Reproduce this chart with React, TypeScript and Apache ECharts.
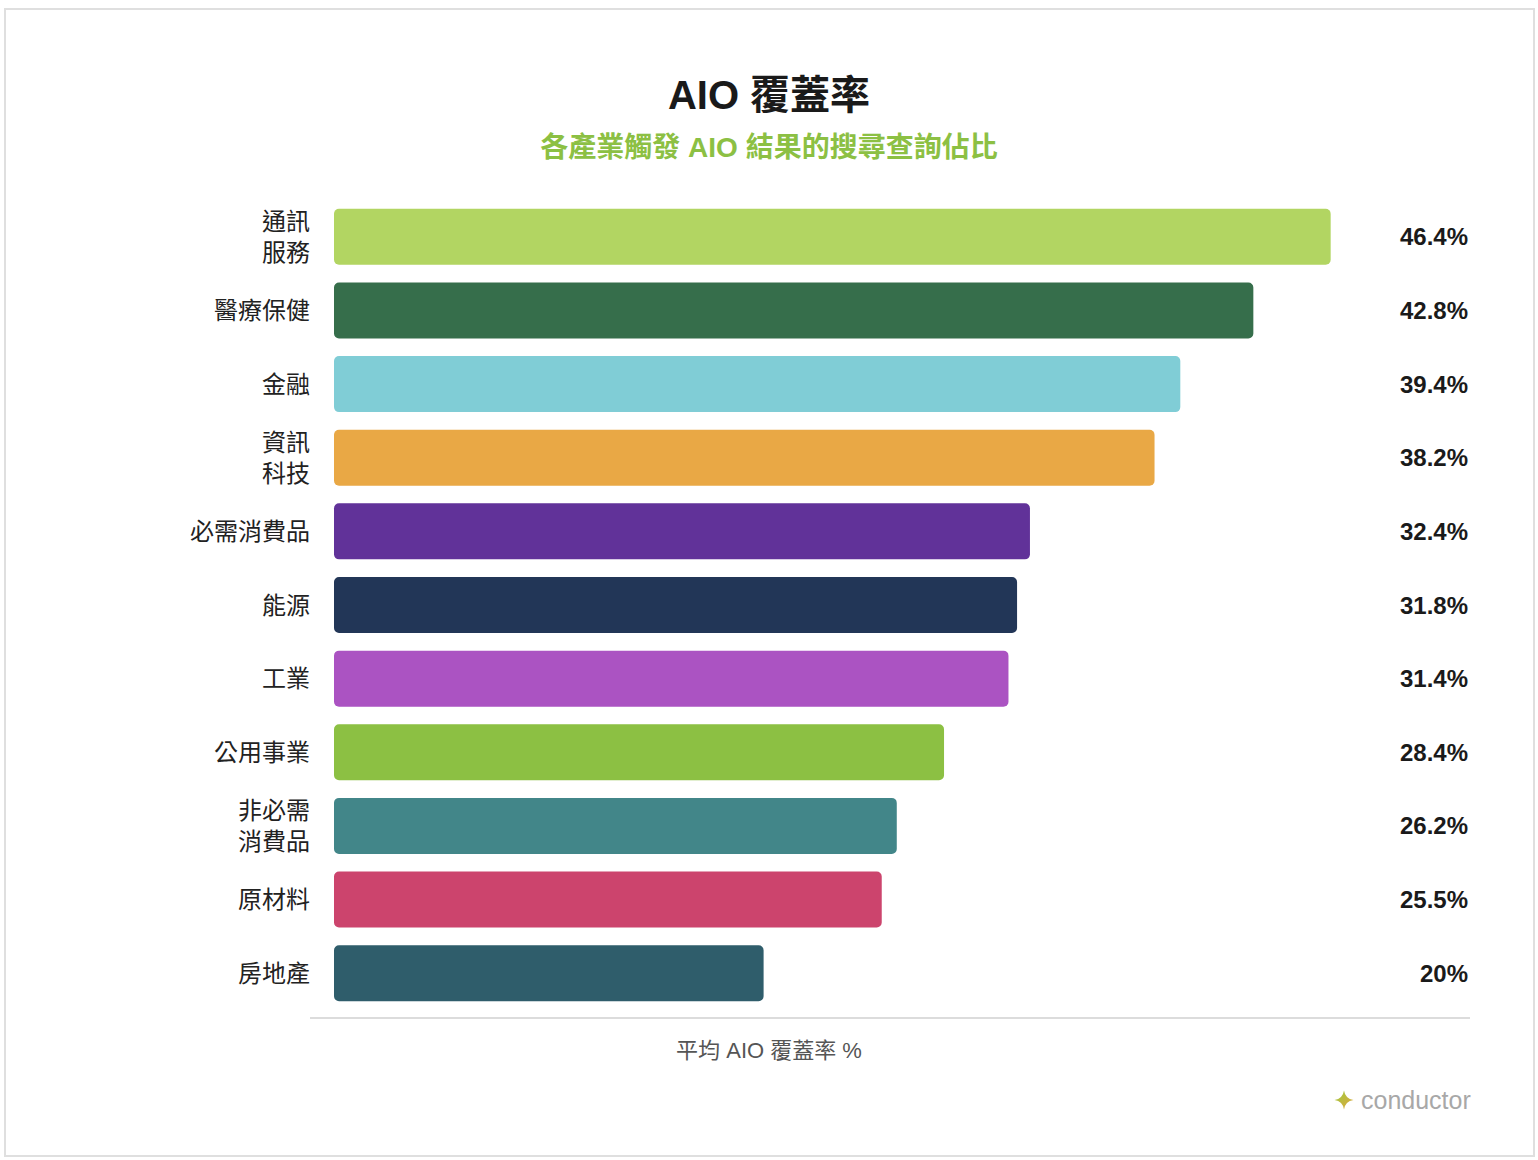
import React, { useEffect, useRef } from "react";
import * as echarts from "echarts";

const categories = [
  "通訊\n服務",
  "醫療保健",
  "金融",
  "資訊\n科技",
  "必需消費品",
  "能源",
  "工業",
  "公用事業",
  "非必需\n消費品",
  "原材料",
  "房地產",
];
const values = [46.4, 42.8, 39.4, 38.2, 32.4, 31.8, 31.4, 28.4, 26.2, 25.5, 20];
const valueLabels = ["46.4%", "42.8%", "39.4%", "38.2%", "32.4%", "31.8%", "31.4%", "28.4%", "26.2%", "25.5%", "20%"];
const barColors = [
  "#b2d562",
  "#366e4b",
  "#80cdd6",
  "#e9a845",
  "#613299",
  "#223657",
  "#ab53c2",
  "#8cc043",
  "#428689",
  "#cc446d",
  "#2f5d6b",
];

const FONT = '"Liberation Sans", "Noto Sans CJK TC", sans-serif';

echarts.graphic.registerShape(
  "spark",
  echarts.graphic.extendPath(
    "M0,-9 Q1.2,-1.2 9,0 Q1.2,1.2 0,9 Q-1.2,1.2 -9,0 Q-1.2,-1.2 0,-9 Z",
    {}
  ) as any
);

export default function App() {
  const ref = useRef<HTMLDivElement>(null);
  useEffect(() => {
    if (!ref.current) return;
    const chart = echarts.init(ref.current, null, { renderer: "svg" });
    chart.setOption({
      animation: false,
      backgroundColor: "#ffffff",
      title: {
        text: "AIO 覆蓋率",
        subtext: "各產業觸發 AIO 結果的搜尋查詢佔比",
        left: "center",
        top: 70,
        itemGap: 18,
        textStyle: { fontFamily: FONT, fontSize: 40, fontWeight: "bold", color: "#1a1a1a" },
        subtextStyle: { fontFamily: FONT, fontSize: 28, fontWeight: "bold", color: "#8cc043" },
      },
      grid: { left: 334, top: 200, height: 810, right: 130 },
      xAxis: {
        type: "value",
        min: 0,
        max: 50,
        axisLine: { show: false },
        axisTick: { show: false },
        axisLabel: { show: false },
        splitLine: { show: false },
      },
      yAxis: [
        {
          type: "category",
          data: categories,
          inverse: true,
          axisLine: { show: false },
          axisTick: { show: false },
          axisLabel: {
            margin: 24,
            fontFamily: FONT,
            fontSize: 24,
            lineHeight: 31,
            color: "#222222",
            align: "right",
          },
        },
        {
          type: "category",
          data: valueLabels,
          inverse: true,
          position: "right",
          axisLine: { show: false },
          axisTick: { show: false },
          axisLabel: {
            margin: 60,
            align: "right",
            fontFamily: FONT,
            fontSize: 24,
            fontWeight: "bold",
            color: "#1a1a1a",
          },
        },
      ],
      series: [
        {
          type: "bar",
          data: values.map((v, i) => ({ value: v, itemStyle: { color: barColors[i] } })),
          barWidth: 56,
          itemStyle: { borderRadius: 5 },
        },
      ],
      graphic: [
        {
          type: "rect",
          shape: { x: 5, y: 9, width: 1529, height: 1147 },
          style: { fill: "none", stroke: "#dfdfdf", lineWidth: 2 },
          silent: true,
        },
        {
          type: "line",
          shape: { x1: 310, y1: 1018, x2: 1470, y2: 1018 },
          style: { stroke: "#dcdcdc", lineWidth: 2 },
        },
        {
          type: "text",
          x: 769,
          y: 1050,
          style: {
            text: "平均 AIO 覆蓋率 %",
            fontFamily: FONT,
            fontSize: 22,
            fill: "#555555",
            align: "center",
            verticalAlign: "middle",
          },
        },
        {
          type: "spark",
          x: 1344,
          y: 1100,
          scaleX: 1.05,
          scaleY: 1.05,
          style: {
            fill: new echarts.graphic.LinearGradient(0, 0, 1, 1, [
              { offset: 0, color: "#9ccc3f" },
              { offset: 1, color: "#e2a53e" },
            ]),
          },
        },
        {
          type: "text",
          x: 1361,
          y: 1100,
          style: {
            text: "conductor",
            fontFamily: FONT,
            fontSize: 25,
            fill: "#a8a8a8",
            align: "left",
            verticalAlign: "middle",
          },
        },
      ],
    });
    return () => chart.dispose();
  }, []);
  return (
    <div
      ref={ref}
      style={{ position: "fixed", left: 0, top: 0, width: 1538, height: 1160 }}
    />
  );
}
